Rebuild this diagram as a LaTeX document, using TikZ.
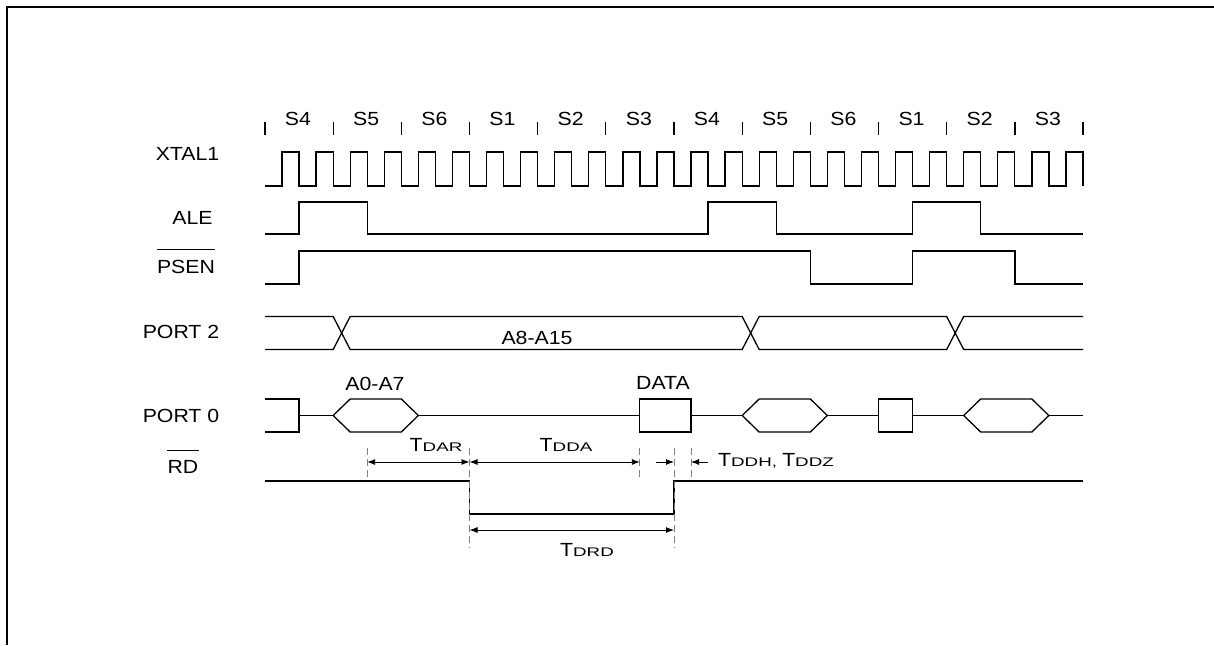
\documentclass[tikz,border=0pt]{standalone}
\usepackage{fontspec}
\setmainfont{Liberation Sans}[FakeStretch=1.12]
\newfontfamily\subfont{Liberation Sans}[FakeStretch=1.5]
\usetikzlibrary{arrows.meta}
\newcommand\tk[1]{(265+68.1667*#1)}
\newcommand\smallsub[1]{{\subfont\fontsize{12.5}{14}\selectfont #1}}
\begin{document}
\begin{tikzpicture}[x=1pt,y=-1pt,
  sig/.style={line width=1.3pt, line join=miter},
  lbl/.style={inner sep=0pt, font=\fontsize{19}{22}\selectfont},
  dim/.style={line width=0.9pt, {Latex[length=8pt,width=6pt]}-{Latex[length=8pt,width=6pt]}},
  dimr/.style={line width=0.9pt, -{Latex[length=8pt,width=6pt]}},
  guide/.style={line width=0.8pt, gray, dash pattern=on 7pt off 4pt}]
\useasboundingbox (0,0) rectangle (1214,645);
% frame
\draw[line width=2pt] (1214,6.7) -- (6.7,6.7) -- (6.7,645);

% state labels and ticks
\foreach \k/\s in {0/S4,1/S5,2/S6,3/S1,4/S2,5/S3,6/S4,7/S5,8/S6,9/S1,10/S2,11/S3} {
  \node[lbl] (st\k) at ({\tk{\k}+33},119) {\s};
}
\foreach \k in {0,...,12} \draw[sig] ({\tk{\k}},122) -- ({\tk{\k}},135);

% signal names
\node[lbl] (xtal) at (187.5,154) {XTAL1};
\node[lbl] (ale) at (192.5,218) {ALE};
\node[lbl] (psen) at (186,267) {PSEN};
\draw[line width=0.9pt] (psen.west |- 0,249.5) -- (psen.east |- 0,249.5);
\node[lbl] (p2) at (181,332) {PORT 2};
\node[lbl] (p0) at (181,416) {PORT 0};
\node[lbl] (rd) at (183,467) {RD};
\draw[line width=0.9pt] (rd.west |- 0,450) -- (rd.east |- 0,450);

% XTAL1 clock
\draw[sig] (265,186)
  \foreach \i in {0,...,23} {
    -- ({265+34.0833*\i+17.0417},186) -- ({265+34.0833*\i+17.0417},152)
    -- ({265+34.0833*(\i+1)},152) -- ({265+34.0833*(\i+1)},186)
  };

% ALE
\draw[sig] ({\tk{0}},234) -- ({\tk{0}+34},234) -- ({\tk{0}+34},202) -- ({\tk{1}+34},202)
  -- ({\tk{1}+34},234) -- ({\tk{6}+34},234) -- ({\tk{6}+34},202) -- ({\tk{7}+34},202)
  -- ({\tk{7}+34},234) -- ({\tk{9}+34},234) -- ({\tk{9}+34},202) -- ({\tk{10}+34},202)
  -- ({\tk{10}+34},234) -- ({\tk{12}},234);

% PSEN
\draw[sig] ({\tk{0}},284) -- ({\tk{0}+34},284) -- ({\tk{0}+34},251) -- ({\tk{8}},251)
  -- ({\tk{8}},284) -- ({\tk{9}+34},284) -- ({\tk{9}+34},251) -- ({\tk{11}},251)
  -- ({\tk{11}},284) -- ({\tk{12}},284);

% PORT 2
\draw[sig] ({\tk{0}},316.5) -- ({\tk{1}},316.5) -- ({\tk{1}+17},349.5) -- ({\tk{7}},349.5)
  -- ({\tk{7}+17},316.5) -- ({\tk{10}},316.5) -- ({\tk{10}+17},349.5) -- ({\tk{12}},349.5);
\draw[sig] ({\tk{0}},349.5) -- ({\tk{1}},349.5) -- ({\tk{1}+17},316.5) -- ({\tk{7}},316.5)
  -- ({\tk{7}+17},349.5) -- ({\tk{10}},349.5) -- ({\tk{10}+17},316.5) -- ({\tk{12}},316.5);
\node[lbl] (a815) at (537,338) {A8-A15};

% PORT 0
\draw[sig] ({\tk{0}},399) -- ({\tk{0}+34},399) -- ({\tk{0}+34},432) -- ({\tk{0}},432);
\draw[sig] ({\tk{0}+34},415.5) -- ({\tk{1}},415.5);
\draw[sig] ({\tk{1}},415.5) -- ({\tk{1}+17},399) -- ({\tk{2}},399) -- ({\tk{2}+17},415.5)
  -- ({\tk{2}},432) -- ({\tk{1}+17},432) -- cycle;
\draw[sig] ({\tk{2}+17},415.5) -- ({\tk{5}+34},415.5);
\draw[sig] ({\tk{5}+34},399) rectangle ({\tk{6}+17},432);
\draw[sig] ({\tk{6}+17},415.5) -- ({\tk{7}},415.5);
\draw[sig] ({\tk{7}},415.5) -- ({\tk{7}+17},399) -- ({\tk{8}},399) -- ({\tk{8}+17},415.5)
  -- ({\tk{8}},432) -- ({\tk{7}+17},432) -- cycle;
\draw[sig] ({\tk{8}+17},415.5) -- ({\tk{9}},415.5);
\draw[sig] ({\tk{9}},399) rectangle ({\tk{9}+34},432);
\draw[sig] ({\tk{9}+34},415.5) -- ({\tk{10}+17},415.5);
\draw[sig] ({\tk{10}+17},415.5) -- ({\tk{10}+34},399) -- ({\tk{11}+17},399) -- ({\tk{11}+34},415.5)
  -- ({\tk{11}+17},432) -- ({\tk{10}+34},432) -- cycle;
\draw[sig] ({\tk{11}+34},415.5) -- ({\tk{12}},415.5);
\node[lbl] (a07) at (375,384) {A0-A7};
\node[lbl] (data) at (663,383) {DATA};

% RD
\draw[sig] ({\tk{0}},481) -- ({\tk{3}},481) -- ({\tk{3}},514) -- ({\tk{6}},514)
  -- ({\tk{6}},481) -- ({\tk{12}},481);

% guide coordinates
\coordinate (g1t) at ({\tk{1}+34},448); \coordinate (g1b) at ({\tk{1}+34},481);
\coordinate (g2t) at ({\tk{3}},448);    \coordinate (g2b) at ({\tk{3}},548);
\coordinate (g3t) at ({\tk{5}+34},448); \coordinate (g3b) at ({\tk{5}+34},481);
\coordinate (g4t) at ({\tk{6}},448);    \coordinate (g4b) at ({\tk{6}},548);
\coordinate (g5t) at ({\tk{6}+17},448); \coordinate (g5b) at ({\tk{6}+17},481);
\foreach \g in {1,...,5} \draw[guide] (g\g t) -- (g\g b);

% dimension arrows
\coordinate (d1) at ({\tk{1}+34},462);
\coordinate (d2) at ({\tk{3}},462);
\coordinate (d3) at ({\tk{5}+34},462);
\coordinate (d4s) at (656,462);
\coordinate (d4) at ({\tk{6}},462);
\coordinate (d5) at ({\tk{6}+17},462);
\coordinate (d5s) at (708,462);
\draw[dim] (d1) -- (d2);
\draw[dim] (d2) -- (d3);
\draw[dimr] (d4s) -- (d4);
\draw[dimr] (d5s) -- (d5);
\coordinate (r1) at ({\tk{3}},530);
\coordinate (r2) at ({\tk{6}},530);
\draw[dim] (r1) -- (r2);

\node[lbl] (tdar) at (436,445) {T\smallsub{DAR}};
\node[lbl] (tdda) at (566,445) {T\smallsub{DDA}};
\node[lbl, anchor=west] (tddh) at (718,461) {T\smallsub{DDH, }T\smallsub{DDZ}};
\node[lbl] (tdrd) at (587,550) {T\smallsub{DRD}};
\end{tikzpicture}
\end{document}
